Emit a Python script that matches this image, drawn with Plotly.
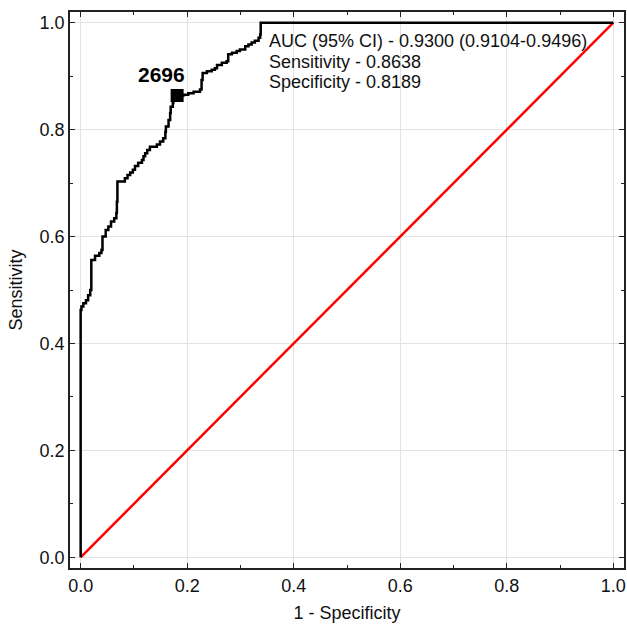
import plotly.graph_objects as go

# ROC curve points (1 - Specificity, Sensitivity)
fpr = [0.0, 0.0, 0.0015, 0.005, 0.01, 0.014, 0.018, 0.02, 0.027, 0.035, 0.039, 0.041,
       0.047, 0.052, 0.057, 0.063, 0.067, 0.068, 0.069, 0.077, 0.083, 0.088, 0.093,
       0.098, 0.102, 0.108, 0.115, 0.118, 0.121, 0.125, 0.13, 0.143, 0.149, 0.155,
       0.159, 0.160, 0.165, 0.168, 0.169, 0.173, 0.174, 0.1811, 0.193, 0.202, 0.212,
       0.224, 0.227, 0.229, 0.237, 0.246, 0.252, 0.256, 0.265, 0.274, 0.277, 0.284,
       0.293, 0.299, 0.309, 0.315, 0.321, 0.327, 0.334, 0.337, 0.338, 1.0]
tpr = [0.0, 0.4625, 0.469, 0.475, 0.481, 0.49, 0.5, 0.556, 0.564, 0.569, 0.575, 0.6,
       0.612, 0.619, 0.628, 0.634, 0.644, 0.665, 0.703, 0.703, 0.709, 0.715, 0.72,
       0.725, 0.732, 0.738, 0.743, 0.75, 0.756, 0.762, 0.768, 0.772, 0.778, 0.784,
       0.796, 0.806, 0.818, 0.831, 0.843, 0.85, 0.862, 0.8638, 0.865, 0.868, 0.871,
       0.875, 0.893, 0.906, 0.909, 0.912, 0.915, 0.921, 0.925, 0.928, 0.941, 0.944,
       0.947, 0.95, 0.956, 0.959, 0.963, 0.966, 0.972, 0.978, 1.0, 1.0]

ref_x = [0.0, 1.0]
ref_y = [0.0, 1.0]

cut_x = [0.1811]
cut_y = [0.8638]
cut_label = "2696"

auc_text = ["AUC (95% CI) - 0.9300 (0.9104-0.9496)",
            "Sensitivity - 0.8638",
            "Specificity - 0.8189"]

tick_vals = [0.0, 0.2, 0.4, 0.6, 0.8, 1.0]
tick_text = ["0.0", "0.2", "0.4", "0.6", "0.8", "1.0"]

FONT = "Liberation Sans, Arial, sans-serif"
TXT = "#111111"

fig = go.Figure()
fig.add_trace(go.Scatter(x=ref_x, y=ref_y, mode="lines",
                         line=dict(color="#ff0000", width=2.5), hoverinfo="skip"))
fig.add_trace(go.Scatter(x=fpr, y=tpr, mode="lines",
                         line=dict(color="black", width=2.5, shape="hv")))
fig.add_trace(go.Scatter(x=cut_x, y=cut_y, mode="markers",
                         marker=dict(symbol="square", size=13, color="black")))

fig.add_annotation(x=cut_x[0], y=cut_y[0], xref="x", yref="y", xanchor="center",
                   yanchor="middle", xshift=-16, yshift=21, showarrow=False,
                   text="<b>" + cut_label + "</b>",
                   font=dict(size=21, color="black", family=FONT))

line_y = [0.965, 0.927, 0.890]
for txt, yy in zip(auc_text, line_y):
    fig.add_annotation(x=0.35, y=yy, xref="x", yref="y", xanchor="left", yanchor="middle",
                       text=txt, showarrow=False, align="left",
                       font=dict(size=18, color=TXT, family=FONT))

axis_common = dict(range=[-0.02, 1.02], tickvals=tick_vals, ticktext=tick_text,
                   showgrid=True, gridcolor="#e3e3e3", gridwidth=1, zeroline=False,
                   showline=True, linecolor="#222222", linewidth=1.8, mirror="allticks",
                   ticks="inside", ticklen=5, tickcolor="#222222", automargin=False,
                   minor=dict(dtick=0.1, ticks="inside", ticklen=3, tickcolor="#222222",
                              showgrid=False),
                   tickfont=dict(size=18, color=TXT, family=FONT))

fig.update_xaxes(**axis_common, title=dict(text="1 - Specificity", standoff=12,
                 font=dict(size=18, color=TXT, family=FONT)))
fig.update_yaxes(**axis_common, title=dict(text="Sensitivity", standoff=12,
                 font=dict(size=18, color=TXT, family=FONT)))

fig.update_layout(width=627, height=627, showlegend=False,
                  plot_bgcolor="white", paper_bgcolor="white",
                  margin=dict(l=70, r=3, t=12, b=59),
                  font=dict(family=FONT))

# remove the default page margin so the 627x627 figure fills the window exactly
fig.write_html("out.html",
               config={"displayModeBar": False},
               post_script="document.body.style.margin='0';"
                           "document.body.style.overflow='hidden';")
